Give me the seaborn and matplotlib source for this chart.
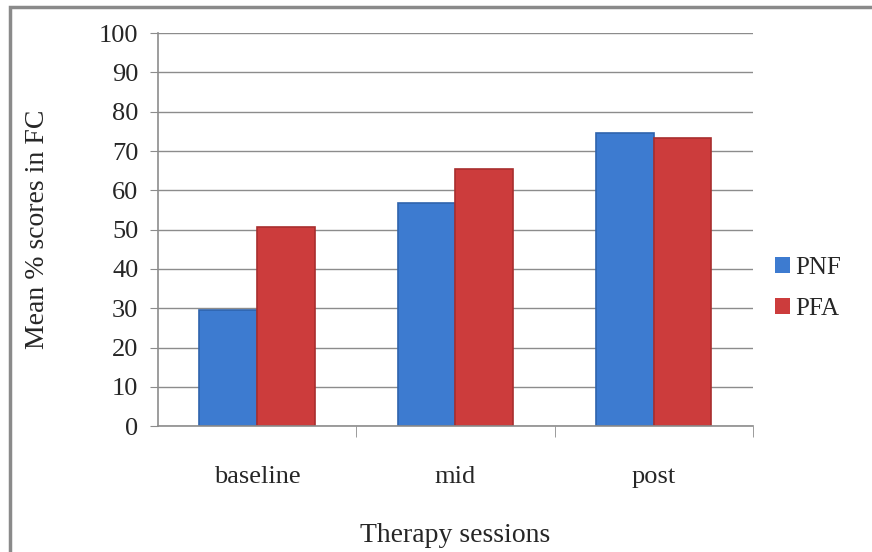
import numpy as np
import pandas as pd
import matplotlib.pyplot as plt
import seaborn as sns
from matplotlib.patches import Rectangle

# data
sessions = ['baseline', 'mid', 'post']
pnf = [29.5, 56.7, 74.5]
pfa = [50.6, 65.4, 73.3]

df = pd.DataFrame({
    'session': sessions * 2,
    'group': ['PNF'] * 3 + ['PFA'] * 3,
    'score': pnf + pfa,
})

sns.set_style('white')
plt.rcParams['font.family'] = ['Liberation Serif', 'DejaVu Serif']

fig = plt.figure(figsize=(8.72, 5.52), dpi=100)
ax = fig.add_axes([0.181, 0.228, 0.6825, 0.712])

sns.barplot(data=df, x='session', y='score', hue='group',
            palette={'PNF': '#3d7bd0', 'PFA': '#cc3c3c'},
            width=0.58, saturation=1, edgecolor='none', ax=ax)

# darker side shading for a bit of the bevel look
for bar, c in zip(ax.patches, ['#2f63ad'] * 3 + ['#a82e2e'] * 3):
    bar.set_edgecolor(c)
    bar.set_linewidth(1.2)

ax.set_ylim(0, 100)
ax.set_xlim(-0.5, 2.5)
ax.set_yticks(np.arange(0, 101, 10))
ax.yaxis.grid(True, color='#8c8c8c', linewidth=1)
ax.set_axisbelow(True)

for s in ['top', 'right']:
    ax.spines[s].set_visible(False)
for s in ['left', 'bottom']:
    ax.spines[s].set_color('#8c8c8c')
    ax.spines[s].set_linewidth(1.2)

ax.tick_params(axis='y', length=6, color='#8c8c8c', labelsize=19, pad=8, left=True)
ax.tick_params(axis='x', which='major', length=0, labelsize=19, pad=29)
ax.set_xticks([0.5, 1.5, 2.5], minor=True)
ax.tick_params(axis='x', which='minor', length=8, color='#8c8c8c', bottom=True)

ax.set_xlabel('Therapy sessions', fontsize=20, labelpad=25)
ax.set_ylabel('Mean % scores in FC', fontsize=20, labelpad=35)

ax.legend(title=None, frameon=False, fontsize=18, loc='center left',
          bbox_to_anchor=(1.0, 0.35), handlelength=0.6, handleheight=0.6,
          handletextpad=0.2, labelspacing=0.75)

# grey border around the chart area
fig.patches.append(Rectangle((0.012, -0.02), 1.0, 1.007, transform=fig.transFigure,
                             fill=False, edgecolor='#8a8a8a', linewidth=2.5))

fig.savefig('out.png', dpi=100)
